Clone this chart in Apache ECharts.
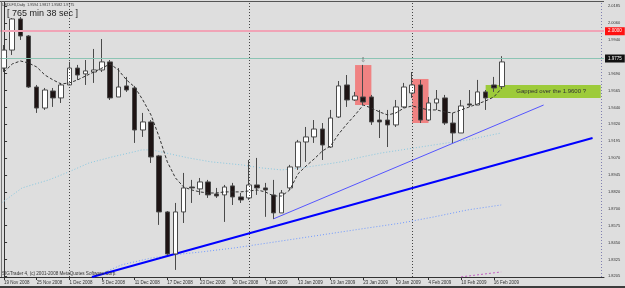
<!DOCTYPE html>
<html><head><meta charset="utf-8">
<script src="https://cdn.jsdelivr.net/npm/echarts@6/dist/echarts.min.js"></script>
<style>html,body{margin:0;padding:0;background:#dedede}#c{width:625px;height:288px}</style>
</head><body><div id="c"></div>
<script>
// ---- data ----
const dates = ['19 Nov 2008','20 Nov 2008','21 Nov 2008','24 Nov 2008','25 Nov 2008','26 Nov 2008','27 Nov 2008','28 Nov 2008',
 '1 Dec 2008','2 Dec 2008','3 Dec 2008','4 Dec 2008','5 Dec 2008','8 Dec 2008','9 Dec 2008','10 Dec 2008','11 Dec 2008','12 Dec 2008',
 '15 Dec 2008','16 Dec 2008','17 Dec 2008','18 Dec 2008','19 Dec 2008','22 Dec 2008','23 Dec 2008','24 Dec 2008','26 Dec 2008',
 '29 Dec 2008','30 Dec 2008','31 Dec 2008','2 Jan 2009','6 Jan 2009','7 Jan 2009','8 Jan 2009','9 Jan 2009','12 Jan 2009',
 '13 Jan 2009','14 Jan 2009','15 Jan 2009','16 Jan 2009','19 Jan 2009','20 Jan 2009','21 Jan 2009','22 Jan 2009','23 Jan 2009',
 '26 Jan 2009','27 Jan 2009','28 Jan 2009','29 Jan 2009','30 Jan 2009','2 Feb 2009','3 Feb 2009','4 Feb 2009','5 Feb 2009',
 '6 Feb 2009','9 Feb 2009','10 Feb 2009','11 Feb 2009','12 Feb 2009','13 Feb 2009','16 Feb 2009','17 Feb 2009'];
const opens  = [1.9730,1.9862,2.0090,1.9965,1.9591,1.9437,1.9562,1.9511,1.9606,1.9730,1.9687,1.9701,1.9716,1.9775,1.9518,1.9599,
 1.9584,1.9276,1.9335,1.9086,1.8675,1.8367,1.8675,1.8858,1.8844,1.8895,1.8807,1.8800,1.8866,1.8785,1.8778,1.8873,1.8851,1.8800,
 1.8668,1.8851,1.9005,1.9188,1.9225,1.9283,1.9151,1.9371,1.9606,1.9496,1.9518,1.9518,1.9349,1.9349,1.9313,1.9445,1.9547,1.9606,
 1.9349,1.9474,1.9511,1.9327,1.9254,1.9467,1.9459,1.9555,1.9606,1.9594];
const closes = [1.9862,2.0090,1.9965,1.9591,1.9437,1.9569,1.9511,1.9606,1.9730,1.9679,1.9709,1.9716,1.9775,1.9511,1.9591,1.9569,
 1.9276,1.9335,1.9078,1.8675,1.8367,1.8675,1.8851,1.8851,1.8895,1.8800,1.8792,1.8858,1.8785,1.8763,1.8873,1.8851,1.8836,1.8668,
 1.8814,1.9005,1.9188,1.9225,1.9283,1.9166,1.9364,1.9599,1.9496,1.9525,1.9481,1.9335,1.9335,1.9313,1.9445,1.9591,1.9606,1.9349,
 1.9474,1.9503,1.9327,1.9254,1.9452,1.9459,1.9555,1.9511,1.9584,1.9775];
const lows   = [1.9701,1.9826,1.9936,1.9584,1.9401,1.9423,1.9445,1.9474,1.9606,1.9643,1.9606,1.9621,1.9701,1.9496,1.9518,1.9555,
 1.9181,1.9225,1.9034,1.8580,1.8360,1.8250,1.8594,1.8741,1.8800,1.8778,1.8778,1.8602,1.8726,1.8741,1.8763,1.8800,1.8639,1.8624,
 1.8668,1.8836,1.8983,1.9042,1.9181,1.9056,1.9144,1.9364,1.9445,1.9489,1.9459,1.9313,1.9217,1.9151,1.9298,1.9437,1.9511,1.9327,
 1.9342,1.9423,1.9313,1.9181,1.9254,1.9445,1.9459,1.9423,1.9555,1.9582];
const highs  = [1.9899,2.0097,2.0104,1.9972,1.9606,1.9584,1.9584,1.9621,1.9775,1.9753,1.9789,1.9870,1.9943,1.9789,1.9730,1.9665,
 1.9599,1.9401,1.9349,1.9093,1.8682,1.8741,1.8961,1.8910,1.8924,1.8910,1.8851,1.8873,1.8888,1.8814,1.9056,1.9071,1.8888,1.8910,
 1.8836,1.9020,1.9203,1.9298,1.9349,1.9327,1.9423,1.9635,1.9679,1.9555,1.9753,1.9533,1.9423,1.9423,1.9496,1.9621,1.9701,1.9643,
 1.9518,1.9569,1.9533,1.9401,1.9496,1.9569,1.9643,1.9569,1.9665,1.9817];
const maShort = [1.9701,1.9760,1.9782,1.9767,1.9738,1.9679,1.9643,1.9613,1.9621,1.9643,1.9672,1.9701,1.9730,1.9760,1.9716,1.9643,
 1.9591,1.9496,1.9386,1.9225,1.9042,1.8924,1.8858,1.8836,1.8822,1.8814,1.8814,1.8822,1.8822,1.8822,1.8829,1.8836,1.8822,1.8792,
 1.8792,1.8836,1.8954,1.9012,1.9064,1.9122,1.9159,1.9247,1.9320,1.9386,1.9459,1.9437,1.9408,1.9386,1.9401,1.9437,1.9452,1.9437,
 1.9423,1.9423,1.9408,1.9401,1.9423,1.9445,1.9467,1.9489,1.9518,1.9584];
// [bar position, price]
const maMid = [[-0.3,1.8741],[2.2,1.8851],[5.5,1.8910],[7.9,1.8968],[10.4,1.9034],[13.2,1.9078],[15.3,1.9107],[16.9,1.9130],
 [18.1,1.9130],[20.9,1.9093],[22.6,1.9071],[25.4,1.9042],[29.1,1.9020],[31.5,1.8998],[34.0,1.8983],[36.4,1.8998],[38.9,1.9020],
 [41.3,1.9042],[43.8,1.9078],[46.2,1.9107],[48.7,1.9130],[53.5,1.9174],[56.8,1.9203],[60.9,1.9254]];
const maLong = [[11.0,1.8198],[14.4,1.8287],[18.1,1.8338],[21.8,1.8367],[24.2,1.8382],[28.2,1.8411],[32.4,1.8448],[36.4,1.8484],
 [40.5,1.8521],[44.6,1.8558],[48.7,1.8594],[52.7,1.8639],[56.8,1.8690],[60.9,1.8726]];
const maPurple = [[56.0,1.8199],[60.9,1.8235]];
const trendThick = [[10.76,1.8198],[72.1,1.9217]];
const trendThin = [[33.0,1.8624],[66.1,1.9459]];
const monthSeparators = [8,30,50];
const shiftMarker = 73.13;
const priceTicks = [2.0185,2.0060,1.9940,1.9815,1.9690,1.9565,1.9440,1.9320,1.9195,1.9070,1.8945,1.8820,1.8700,1.8575,1.8450,1.8325,1.8205];
const redZones = [[43,45,1.9752,1.9459],[50,52,1.9650,1.9327]];
const noteBox = [59,73.1,1.9606,1.9510];
const noteText = 'Gapped over the 1.9600 ?';
const arrowMark = [44,1.9789];
const alertLevel = 2.0000;
const bidLevel = 1.9775;
const emptySlots = 12;
const headerText = 'USDLFX,Daily  1.9594 1.9817 1.9582 1.9775';
const timerText = '[ 765 min 38 sec ]';
const copyrightText = 'SIGTrader 4, (c) 2001-2008 MetaQuotes Software Corp.';

// ---- chart ----
const categories = dates.concat(Array(emptySlots).fill(''));
const candles = dates.map((d,i)=>[opens[i],closes[i],lows[i],highs[i]]);
const nBands = categories.length;
const F = 'Liberation Sans';
const showLab = (i,v)=> i%4===0 && v!=='';

const chart = echarts.init(document.getElementById('c'), null, {renderer:'canvas'});
chart.setOption({
  animation:false,
  backgroundColor:'#dedede',
  grid:{left:-2,right:21,top:1.5,bottom:11,show:false},
  xAxis:[
    {type:'category',data:categories,boundaryGap:true,position:'bottom',
     axisLine:{lineStyle:{color:'#333',width:1}},
     axisTick:{show:true,alignWithLabel:true,interval:showLab,length:3,lineStyle:{color:'#333'}},
     axisLabel:{interval:showLab,align:'left',fontSize:4.5,fontFamily:F,color:'#333',margin:3},
     splitLine:{show:false}},
    {type:'value',min:-0.5,max:nBands-0.5,show:false,position:'top'}
  ],
  yAxis:{type:'value',position:'right',min:1.8198,max:2.0218,scale:true,
    splitLine:{show:false},
    axisLine:{show:true,lineStyle:{color:'#333'}},
    axisTick:{show:true,length:3,customValues:priceTicks,lineStyle:{color:'#333'}},
    axisLabel:{customValues:priceTicks,formatter:v=>v.toFixed(4),fontSize:4,fontFamily:F,color:'#333',margin:4}},
  series:[
    {type:'line',xAxisIndex:1,data:[],z:1,silent:true,
     markArea:{silent:true,itemStyle:{color:'#f08282'},
       data:redZones.map(r=>[{xAxis:r[0],yAxis:r[2]},{xAxis:r[1],yAxis:r[3]}])}},
    {type:'line',xAxisIndex:1,data:[],z:1,silent:true,
     markArea:{silent:true,itemStyle:{color:'#9dcb3a'},
       label:{show:true,position:'inside',offset:[8,0],fontSize:6,fontFamily:F,color:'#333'},
       data:[[{xAxis:noteBox[0],yAxis:noteBox[2],name:noteText},{xAxis:noteBox[1],yAxis:noteBox[3]}]]}},
    {type:'line',xAxisIndex:1,data:[],z:1,silent:true,
     markLine:{silent:true,symbol:['none','none'],label:{show:false},
       data:monthSeparators.map(b=>({xAxis:b,lineStyle:{type:[1,2],color:'#444',width:1}}))
         .concat([{xAxis:shiftMarker,lineStyle:{type:[1,2],color:'#8080b0',width:1}}])}},
    {type:'line',xAxisIndex:1,data:[],z:2,silent:true,
     markLine:{silent:true,symbol:['none','none'],
       data:[
         {yAxis:alertLevel,lineStyle:{color:'#f0a4b6',width:2,type:'solid'},
          label:{show:true,position:'end',distance:1,formatter:alertLevel.toFixed(4),backgroundColor:'#ff1010',color:'#fff',fontSize:4.5,fontFamily:F,padding:[1.5,3]}},
         {yAxis:bidLevel,lineStyle:{color:'#8cc4b4',width:1,type:'solid'},
          label:{show:true,position:'end',distance:1,formatter:bidLevel.toFixed(4),backgroundColor:'#111',color:'#fff',fontSize:4.5,fontFamily:F,padding:[1.5,3]}}
       ]}},
    {type:'line',xAxisIndex:1,data:maMid,symbol:'none',z:2,lineStyle:{color:'#88c8e0',width:1,type:[1,2]}},
    {type:'line',xAxisIndex:1,data:maLong,symbol:'none',z:2,lineStyle:{color:'#6f98ff',width:1,type:[1,2]}},
    {type:'line',xAxisIndex:1,data:maPurple,symbol:'none',z:2,lineStyle:{color:'#c060c0',width:1,type:[2,2]}},
    {type:'line',xAxisIndex:1,data:trendThick,symbol:'none',z:3,lineStyle:{color:'#0000ff',width:2}},
    {type:'line',xAxisIndex:1,data:trendThin,symbol:'none',z:3,lineStyle:{color:'#5555ff',width:1}},
    {type:'candlestick',xAxisIndex:0,data:candles,barWidth:5,z:4,
     itemStyle:{color:'#ffffff',color0:'#1e1414',borderColor:'#4a4a4a',borderColor0:'#4a4a4a',borderWidth:1}},
    {type:'line',xAxisIndex:0,data:maShort,symbol:'none',z:5,lineStyle:{color:'#333',width:1,type:[3,2]}},
    {type:'scatter',xAxisIndex:1,data:[arrowMark],symbolSize:0,z:5,
     label:{show:true,position:'inside',formatter:'\u21E9',fontSize:7,fontFamily:'DejaVu Sans',color:'#555'}}
  ],
  graphic:[
    {type:'line',shape:{x1:0,y1:1.5,x2:604,y2:1.5},style:{stroke:'#555',lineWidth:1},z:10},
    {type:'line',shape:{x1:1.5,y1:1.5,x2:1.5,y2:277},style:{stroke:'#777',lineWidth:1},z:10},
    {type:'rect',shape:{x:0,y:286,width:625,height:2},style:{fill:'#3c3c3c'},z:10},
    {type:'text',left:2,top:2.5,style:{text:headerText,fontSize:3.6,fontFamily:F,fill:'#333'},z:10},
    {type:'text',left:7,top:9.5,style:{text:timerText,fontSize:9,fontFamily:F,fill:'#222'},z:10},
    {type:'text',left:2,top:271,style:{text:copyrightText,fontSize:4.6,fontFamily:F,fill:'#333'},z:10}
  ]
});
</script></body></html>
